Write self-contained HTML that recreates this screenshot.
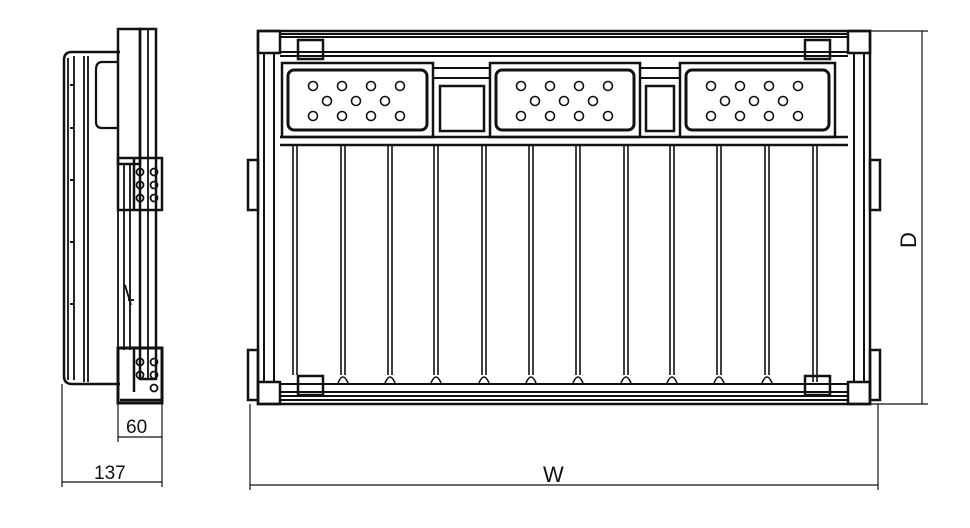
<!DOCTYPE html>
<html><head><style>body{margin:0;background:#fff}svg{display:block}</style></head><body>
<svg width="970" height="528" viewBox="0 0 970 528" xmlns="http://www.w3.org/2000/svg" fill="none" stroke="#111" stroke-width="1.8" font-family="Liberation Sans, sans-serif">
<!-- SIDE VIEW -->
<path d="M120 52 H72 Q64 52 64 60 V376 Q64 384 72 384 H120" stroke-width="2.5"/>
<path d="M68 58 V380 M74 56 V380 M84 56 V382 M88 56 V382"/>
<path d="M118 62 H102 Q96 62 96 70 V122 Q96 128 102 128 H118" stroke-width="2.2"/>
<path d="M70 85 h4 M70 128 h4 M70 180 h4 M70 242 h4 M70 304 h4" stroke-width="2"/>
<rect x="118" y="29" width="22" height="135" stroke-width="2.5"/>
<rect x="140" y="29" width="16" height="350" stroke-width="2.5"/>
<path d="M148 29 V379 M118 164 V350 M124 164 V350 M130 164 V350"/>
<rect x="118" y="158" width="44" height="52" stroke-width="2.5"/>
<path d="M134 158 V210" stroke-width="2.5"/>
<circle cx="140" cy="172" r="3.5"/><circle cx="154" cy="172" r="3.5"/><circle cx="140" cy="185" r="3.5"/><circle cx="154" cy="185" r="3.5"/><circle cx="140" cy="198" r="3.5"/><circle cx="154" cy="198" r="3.5"/>
<rect x="118" y="348" width="44" height="55" stroke-width="3"/>
<path d="M134 348 V392 M120 400 H162" stroke-width="2.5"/>
<circle cx="140" cy="362" r="3.5"/><circle cx="154" cy="362" r="3.5"/><circle cx="140" cy="375" r="3.5"/><circle cx="154" cy="375" r="3.5"/><circle cx="154" cy="388" r="3.5"/>
<path d="M125 285 l6 20 M128 300 h6" />
<g stroke-width="1.2">
<path d="M62 384 V487 M118 404 V442 M162 404 V487"/>
<path d="M118 437 H162 M62 482 H162"/>
</g>
<text x="126" y="433" font-size="19" fill="#111" stroke="none">60</text>
<text x="94" y="479" font-size="19" fill="#111" stroke="none">137</text>
<!-- FRONT VIEW frame -->
<rect x="258" y="31" width="612" height="373" stroke-width="2.5"/>
<rect x="258" y="31" width="22" height="22" stroke-width="2.5"/>
<rect x="848" y="31" width="22" height="22" stroke-width="2.5"/>
<rect x="258" y="382" width="22" height="22" stroke-width="2.5"/>
<rect x="848" y="382" width="22" height="22" stroke-width="2.5"/>
<path d="M280 34 H848 M280 37 H848 M280 52 H848 M280 56 H848" stroke-width="2"/>
<path d="M264 53 V382 M274 53 V382 M854 53 V382 M864 53 V382" stroke-width="2"/>
<rect x="298" y="40" width="25" height="19" stroke-width="2.5"/>
<rect x="805" y="40" width="25" height="19" stroke-width="2.5"/>
<rect x="298" y="376" width="25" height="19" stroke-width="2.5"/>
<rect x="805" y="376" width="25" height="19" stroke-width="2.5"/>
<path d="M280 384 H848 M280 392 H848 M280 396 H848 M280 400 H848" stroke-width="2"/>
<path d="M280 137 H848 M280 145 H848" stroke-width="2.5"/>
<path d="M248 160 h10 v50 h-10 z M248 350 h10 v50 h-10 z M870 160 h10 v50 h-10 z M870 350 h10 v50 h-10 z" stroke-width="2.5"/>
<g stroke-width="2.5">
<rect x="282" y="63" width="151" height="74"/>
<rect x="288" y="70" width="139" height="60" rx="6" stroke-width="3"/>
<rect x="490" y="63" width="150" height="74"/>
<rect x="496" y="70" width="138" height="60" rx="6" stroke-width="3"/>
<rect x="680" y="63" width="155" height="74"/>
<rect x="686" y="70" width="143" height="60" rx="6" stroke-width="3"/>
<rect x="440" y="86" width="44" height="45"/>
<rect x="646" y="86" width="28" height="45"/>
</g>
<path d="M433 68 H490 M433 78 H490 M640 68 H680 M640 78 H680" stroke-width="2"/>
<g stroke-width="1.6">
<g id="h1"><circle cx="313" cy="86" r="4.5"/><circle cx="342" cy="86" r="4.5"/><circle cx="371" cy="86" r="4.5"/><circle cx="400" cy="86" r="4.5"/><circle cx="327" cy="101" r="4.5"/><circle cx="356" cy="101" r="4.5"/><circle cx="385" cy="101" r="4.5"/><circle cx="313" cy="116" r="4.5"/><circle cx="342" cy="116" r="4.5"/><circle cx="371" cy="116" r="4.5"/><circle cx="400" cy="116" r="4.5"/></g>
<use href="#h1" x="208"/>
<use href="#h1" x="398"/>
</g>
<g stroke-width="1.6">
<path d="M293 145 V375 M297 145 V375 M341 145 V375 M345 145 V375 M388 145 V375 M392 145 V375 M434 145 V375 M438 145 V375 M482 145 V375 M486 145 V375 M529 145 V375 M533 145 V375 M576 145 V375 M580 145 V375 M624 145 V375 M628 145 V375 M670 145 V375 M674 145 V375 M717 145 V375 M721 145 V375 M765 145 V375 M769 145 V375 M813 145 V382 M817 145 V382"/>
<path d="M338 383 q5 -12 10 0 M385 383 q5 -12 10 0 M431 383 q5 -12 10 0 M479 383 q5 -12 10 0 M526 383 q5 -12 10 0 M573 383 q5 -12 10 0 M621 383 q5 -12 10 0 M667 383 q5 -12 10 0 M714 383 q5 -12 10 0 M762 383 q5 -12 10 0"/>
</g>
<g stroke-width="1.2">
<path d="M870 31 H928 M870 404 H928 M922 31 V404"/>
<path d="M250 404 V490 M878 404 V490 M250 485 H878"/>
</g>
<text x="543" y="482" font-size="22" fill="#111" stroke="none">W</text>
<text transform="translate(916,248) rotate(-90)" font-size="22" fill="#111" stroke="none">D</text>
</svg>
</body></html>
